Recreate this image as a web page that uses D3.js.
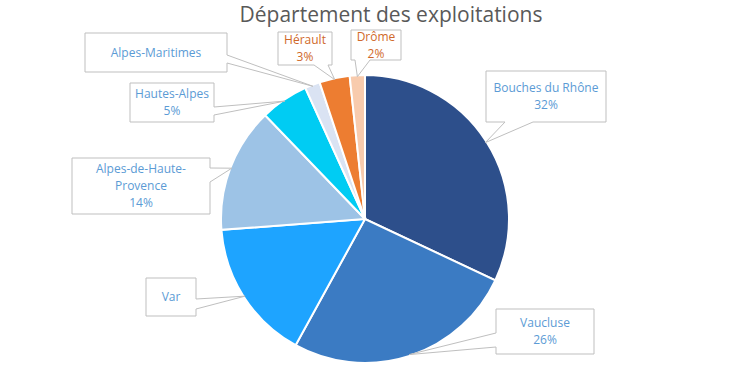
<!DOCTYPE html>
<html>
<head>
<meta charset="utf-8">
<script src="https://cdn.jsdelivr.net/npm/d3@7"></script>
<style>
  body { margin: 0; background: #fff; }
  svg { display: block; }
</style>
</head>
<body>
<div id="plot"></div>
<script>
// data
const departements = ["Bouches du Rhône", "Vaucluse", "Var", "Alpes-de-Haute-Provence",
  "Hautes-Alpes", "Alpes-Maritimes", "Hérault", "Drôme"];
const parts = [32, 26, 15.8, 14, 5.4, 1.7, 3.4, 1.7];
const showPct = [true, true, false, true, true, false, true, true];
const labelLines = [["Bouches du Rhône"], ["Vaucluse"], ["Var"], ["Alpes-de-Haute-", "Provence"],
  ["Hautes-Alpes"], ["Alpes-Maritimes"], ["Hérault"], ["Drôme"]];

const colors = ["#2D4F8B", "#3B7BC3", "#1EA4FF", "#9DC3E6", "#00CCF3", "#DAE3F3", "#ED7D31", "#F8CBAD"];
const textColors = ["#5B9BD5", "#5B9BD5", "#5B9BD5", "#5B9BD5", "#5B9BD5", "#5B9BD5", "#D0692A", "#D0692A"];

// callout boxes: x, y, w, h, side of pointer, pointer base offsets along side
const callouts = [
  {x: 486, y: 71, w: 120, h: 51, side: "bottom", b: [19, 47]},
  {x: 496, y: 309, w: 98, h: 45, side: "left", b: [24, 38]},
  {x: 146, y: 278, w: 50, h: 38, side: "right", b: [21, 31]},
  {x: 72, y: 158, w: 138, h: 56, side: "right", b: [10, 24]},
  {x: 130, y: 83, w: 84, h: 39, side: "right", b: [24, 32]},
  {x: 85, y: 33, w: 142, h: 39, side: "right", b: [22, 30]},
  {x: 278, y: 32, w: 54, h: 33, side: "bottom", b: [36, 50]},
  {x: 351, y: 30, w: 50, h: 30, side: "bottom", b: [4, 19]}
];

const w = 730, h = 372;
const cx = 365, cy = 219, radius = 144;

const svg = d3.select("div#plot")
  .append("svg")
  .attr("width", w)
  .attr("height", h);

// title
svg.append("text")
  .attr("x", 391)
  .attr("y", 22)
  .attr("text-anchor", "middle")
  .style("font-family", "'Open Sans', sans-serif")
  .style("font-size", "21px")
  .style("fill", "#595959")
  .text("Département des exploitations");

const pie = d3.pie().sort(null).value(d => d);
const arcs = pie(parts);
const arc = d3.arc().innerRadius(0).outerRadius(radius);

// slices
svg.append("g")
  .attr("transform", `translate(${cx}, ${cy})`)
  .selectAll("path")
  .data(arcs)
  .enter()
  .append("path")
  .attr("d", arc)
  .style("fill", (d, i) => colors[i])
  .attr("stroke", "#fff")
  .attr("stroke-width", 2);

// callout shape with wedge pointing at the slice
function calloutPath(c, tip) {
  const x0 = c.x, y0 = c.y, x1 = c.x + c.w, y1 = c.y + c.h;
  const p = d3.path();
  p.moveTo(x0, y0);
  p.lineTo(x1, y0);
  if (c.side == "right") {
    p.lineTo(x1, y0 + c.b[0]);
    p.lineTo(tip[0], tip[1]);
    p.lineTo(x1, y0 + c.b[1]);
  }
  p.lineTo(x1, y1);
  if (c.side == "bottom") {
    p.lineTo(x0 + c.b[1], y1);
    p.lineTo(tip[0], tip[1]);
    p.lineTo(x0 + c.b[0], y1);
  }
  p.lineTo(x0, y1);
  if (c.side == "left") {
    p.lineTo(x0, y0 + c.b[1]);
    p.lineTo(tip[0], tip[1]);
    p.lineTo(x0, y0 + c.b[0]);
  }
  p.closePath();
  return p.toString();
}

const labels = svg.append("g").attr("id", "labels");

arcs.forEach((d, i) => {
  const c = callouts[i];
  const mid = (d.startAngle + d.endAngle) / 2;
  const tip = [cx + radius * 0.99 * Math.sin(mid), cy - radius * 0.99 * Math.cos(mid)];

  labels.append("path")
    .attr("d", calloutPath(c, tip))
    .style("fill", "#fff")
    .attr("stroke", "#BFBFBF")
    .attr("stroke-width", 1);

  const lines = labelLines[i].slice();
  if (showPct[i]) lines.push(Math.round(parts[i]) + "%");
  const lh = 17;
  const top = c.y + c.h / 2 - (lines.length - 1) * lh / 2;

  labels.append("text")
    .attr("text-anchor", "middle")
    .style("font-family", "'Open Sans', sans-serif")
    .style("font-size", "12px")
    .style("fill", textColors[i])
    .selectAll("tspan")
    .data(lines)
    .enter()
    .append("tspan")
    .attr("x", c.x + c.w / 2)
    .attr("y", (t, j) => top + j * lh)
    .attr("dy", "0.35em")
    .text(t => t);
});
</script>
</body>
</html>
